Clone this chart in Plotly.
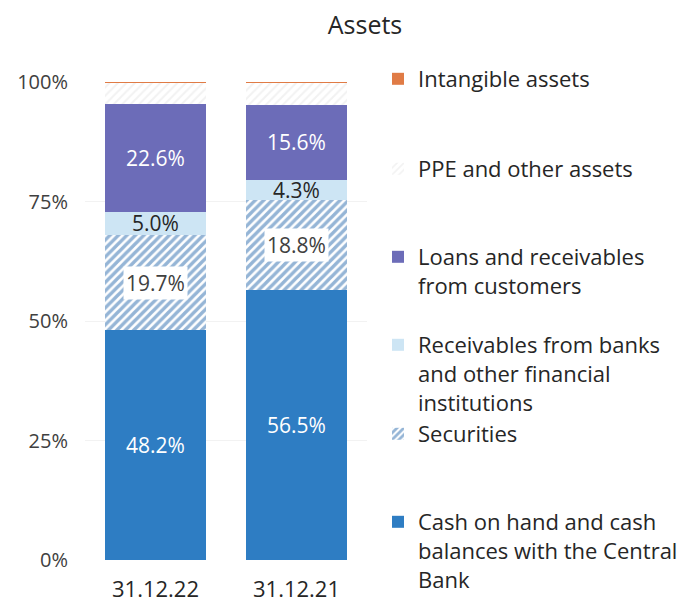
import plotly.graph_objects as go

categories = ["31.12.22", "31.12.21"]
cash = [48.2, 56.5]
securities = [19.7, 18.8]
receivables_banks = [5.0, 4.3]
loans = [22.6, 15.6]
ppe_other = [4.4, 4.7]
intangible = [0.1, 0.1]

y_ticks = [0, 25, 50, 75, 100]
y_tick_labels = ["0%", "25%", "50%", "75%", "100%"]

series = [
    ("cash", "Cash on hand and cash<br>balances with the Central<br>Bank", cash),
    ("sec", "Securities", securities),
    ("recv", "Receivables from banks<br>and other financial<br>institutions", receivables_banks),
    ("loans", "Loans and receivables<br>from customers", loans),
    ("ppe", "PPE and other assets", ppe_other),
    ("intan", "Intangible assets", intangible),
]

styles = {
    "cash": dict(color="#2E7DC3"),
    "sec": dict(color="white", pattern=dict(shape="/", fgcolor="#2C6CAE", bgcolor="white", size=6, solidity=0.58)),
    "recv": dict(color="#CDE5F4"),
    "loans": dict(color="#6C6CB8"),
    "ppe": dict(color="white", pattern=dict(shape="/", fgcolor="#E6E6E6", bgcolor="white", size=6, solidity=0.35)),
    "intan": dict(color="#E07B45"),
}

# legend first-line centre (pixel rows) for each series
legend_rows = {"intan": 80, "ppe": 170, "loans": 258, "recv": 346, "sec": 435, "cash": 523}
legend_names = {"cash": "legend6", "sec": "legend5", "recv": "legend4", "loans": "legend3", "ppe": "legend2", "intan": "legend"}

PLOT_TOP, PLOT_BOTTOM = 82, 560
H = PLOT_BOTTOM - PLOT_TOP

fig = go.Figure()
for key, name, vals in series:
    fig.add_trace(go.Bar(
        x=categories, y=vals, name=name, marker=dict(line=dict(width=0), **styles[key]),
        legend=legend_names[key], hoverinfo="skip",
    ))

font = "Open Sans, Noto Sans, sans-serif"
legend_font = dict(family=font, size=22, color="#262626")
for key, lname in legend_names.items():
    top = legend_rows[key] - 22
    fig.update_layout({lname: dict(
        x=1.039, xanchor="left", y=(PLOT_BOTTOM - top) / H, yanchor="top",
        font=legend_font, valign="top", bgcolor="rgba(0,0,0,0)",
        itemclick=False, itemdoubleclick=False,
    )})

# data labels
annotations = []
label_specs = [
    (cash, 0, "white", None),
    (securities, 1, "#404040", "white"),
    (receivables_banks, 2, "#262626", None),
    (loans, 3, "white", None),
]
stack = [cash, securities, receivables_banks, loans]
for vals, idx, col, bg in label_specs:
    for i, c in enumerate(categories):
        base = sum(s[i] for s in stack[:idx])
        ann = dict(x=c, y=base + vals[i] / 2, text=f"{vals[i]:.1f}%", showarrow=False,
                   font=dict(family=font, size=21, color=col))
        if bg:
            ann.update(bgcolor=bg, borderpad=2)
        annotations.append(ann)

fig.update_layout(
    width=694, height=606,
    margin=dict(l=85, r=694 - 85 - 282, t=PLOT_TOP, b=606 - PLOT_BOTTOM, autoexpand=False),
    paper_bgcolor="white", plot_bgcolor="white",
    barmode="stack", bargap=0.29,
    title=dict(text="Assets", x=365 / 694, xanchor="center", y=1 - 25 / 606, yanchor="middle",
               font=dict(family=font, size=25, color="#262626")),
    xaxis=dict(showline=False, showgrid=False, ticks="", ticklabelstandoff=14, automargin=False,
               tickfont=dict(family=font, size=22, color="#262626")),
    yaxis=dict(range=[0, 100], tickvals=y_ticks, ticktext=y_tick_labels, showline=False,
               showgrid=True, gridcolor="#F2F2F2", zeroline=False, ticks="", ticklabelstandoff=16,
               automargin=False, tickfont=dict(family=font, size=20, color="#404040")),
    annotations=annotations,
    showlegend=True,
)

fig.write_html("out.html", config={"displayModeBar": False},
               post_script="document.body.style.margin='0';document.body.style.overflow='hidden';")
